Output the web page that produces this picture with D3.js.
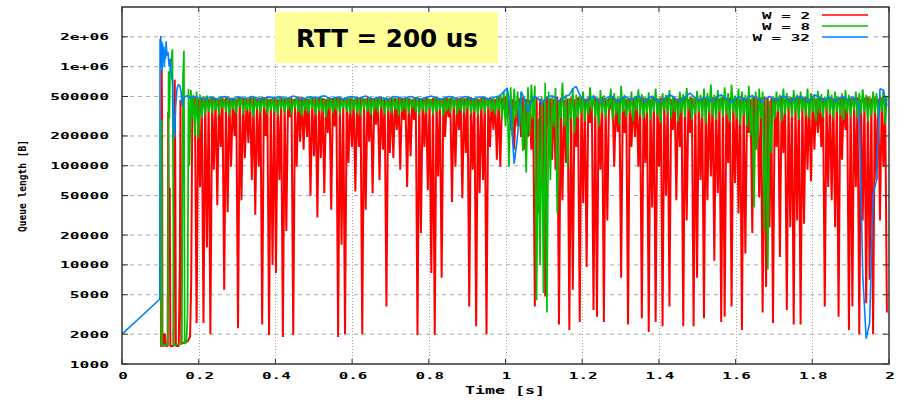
<!DOCTYPE html>
<html><head><meta charset="utf-8">
<script src="https://cdn.jsdelivr.net/npm/d3@7"></script>
<style>body{margin:0;background:#fff}svg{display:block}</style>
</head><body><svg id="c" width="907" height="400"></svg>
<script>
// ---------- axes / labels ----------
const xTicks = [0, 0.2, 0.4, 0.6, 0.8, 1, 1.2, 1.4, 1.6, 1.8, 2];
const xTickLabels = ["0", "0.2", "0.4", "0.6", "0.8", "1", "1.2", "1.4", "1.6", "1.8", "2"];
const yTicks = [1000, 2000, 5000, 10000, 20000, 50000, 100000, 200000, 500000, 1000000, 2000000];
const yTickLabels = ["1000", "2000", "5000", "10000", "20000", "50000", "100000", "200000", "500000", "1e+06", "2e+06"];
const seriesNames = ["W = 2", "W = 8", "W = 32"];
const seriesColors = ["#ff0000", "#00c000", "#0080ff"];
const annotation = "RTT = 200 us";

// ---------- data (queue length in bytes; steady parts in kB) ----------
// start-up transients: time [s], queue [B]
const w2StartT = [0.0995, 0.1018, 0.1035, 0.1045, 0.1055, 0.108, 0.1095, 0.112, 0.1135, 0.119, 0.1205, 0.1225, 0.1245, 0.126, 0.134, 0.1375, 0.139, 0.1405, 0.148, 0.151, 0.1525, 0.1545, 0.163, 0.172, 0.1775, 0.1805, 0.1835];
const w2StartQ = [1520, 1520, 930000, 300000, 1520, 1520, 2000, 2000, 1520, 1520, 350000, 20000, 60000, 1520, 1520, 740000, 100000, 1520, 1520, 12000, 460000, 1600, 1650, 1700, 1900, 6700, 470000];
const w8StartT = [0.1005, 0.1025, 0.1035, 0.1045, 0.1195, 0.1215, 0.1235, 0.1255, 0.128, 0.1315, 0.1335, 0.135, 0.156, 0.159, 0.1615, 0.1635, 0.168, 0.171, 0.1735, 0.176, 0.1795, 0.183, 0.1865];
const w8StartQ = [1550, 1550, 290000, 1550, 1550, 900000, 300000, 1000000, 1100000, 1500000, 40000, 1550, 1600, 800000, 1450000, 1600, 1650, 3300, 600000, 100000, 580000, 300000, 520000];
const w32StartT = [0, 0.0985, 0.0992, 0.1002, 0.101, 0.1025, 0.1035, 0.1048, 0.106, 0.1075, 0.109, 0.1105, 0.112, 0.1135, 0.115, 0.117, 0.12, 0.123, 0.126, 0.129, 0.132, 0.1345, 0.137, 0.14, 0.1435, 0.147, 0.151, 0.154, 0.157, 0.16, 0.165, 0.17, 0.175, 0.18, 0.185];
const w32StartQ = [2000, 4500, 1900000, 950000, 2050000, 1000000, 1800000, 900000, 1700000, 1100000, 1600000, 1000000, 1500000, 1200000, 1800000, 1300000, 1400000, 1000000, 1200000, 800000, 700000, 250000, 190000, 400000, 600000, 660000, 640000, 560000, 400000, 470000, 500000, 510000, 490000, 480000, 500000];

// steady state: one cycle every 0.009 s from t = 0.19 (upper value first, then lower)
const cycleStart = 0.19, cycleLen = 0.009;
const w2TopKb = [480,470,490,485,475,495,480,470,488,492,478,485,470,495,482,476,490,484,472,488,
494,480,475,486,470,492,483,478,490,474,486,495,480,472,488,479,491,484,470,486,
478,492,485,474,489,481,470,493,486,477,490,482,473,488,495,480,471,487,483,492,
476,489,481,470,494,485,478,490,472,486,493,480,475,488,482,470,491,484,477,489,
495,481,473,487,490,478,484,470,492,485,500,460,470,450,480,490,470,460,480,490,
475,465,490,480,470,495,485,460,478,488,470,492,482,474,490,466,486,478,494,470,
484,490,472,480,495,468,486,478,490,474,488,481,470,493,476,487,480,492,470,485,
478,490,483,472,488,495,474,486,480,470,492,484,476,490,468,486,479,494,472,488,
482,470,490,476,488,495,480,472,486,478,492,470,485,490,474,488,480,495,472,486,
478,490,484,470,492,476,488,481,494,472,486,479,490,470,485,492,478,488,474,490,482];
const w2DipKb = [2.6,61,2.6,15,2,91,40,155,5.6,34,98,200,2.3,45,120,170,72,32,98,2.5,200,1.96,10,
8.3,72,1.87,22,310,1.96,98,175,145,195,50,125,30,120,53,215,36,250,1.87,16,2,107,155,55,155,2,36,175,53,260,72,145,3.8,135,120,230,91,290,
61,125,290,1.96,21,155,57,8.3,1.96,78,7.4,195,310,43,98,230,47,135,3.8,91,2.4,53,72,2,155,230,115,98,
370,300,230,145,250,195,145,
195,145,3.8,33,91,4.8,250,115,91,2.5,45,107,2.2,5.6,155,2.65,42,9.5,270,3.5,3,91,2.65,28,370,98,220,7.4,215,2.5,155,195,98,2.9,107,2.1,38,
2.65,98,2.4,50,3.8,230,45,155,2.4,28,215,2.4,7.4,72,2.9,45,78,11,53,2.65,3,107,3.8,67,33,2.2,13,215,21,145,48,3.3,6,24,2.6,155,
12,135,3.5,24,2.5,28,2.5,26,91,70,145,215,155,3.8,61,45,24,3,115,230,2.2,3.8,61,2,28,4.1,7.1,2,72,28,98,3.3];
const w8LowKb = [200,190,300,330,350,340,
360,330,380,350,320,370,340,390,330,360,350,310,370,340,380,330,360,345,320,375,
340,365,330,385,350,320,360,340,375,330,355,345,310,370,340,360,330,380,350,335,
365,340,320,375,350,330,360,345,385,330,355,340,370,320,350,365,335,380,345,330,
360,340,375,330,350,365,320,355,340,380,330,360,345,370,335,350,325,365,340,380,350,330,360,
300,250,98,200,300,250,140,
85,200,300,4.4,10,5.2,3.3,72,250,33,300,250,98,300,215,
300,340,280,330,360,300,250,340,310,370,290,330,260,350,310,340,280,360,320,300,
340,290,350,320,270,360,330,300,350,280,340,310,360,290,330,350,300,270,340,320,
290,350,310,330,280,340,300,260,320,250,
200,38,150,300,22,9,135,
300,350,280,330,370,310,340,290,360,320,300,350,280,340,310,360,330,300,350,320,
290,340,310,360,300,330,350,280,320,340,300,350,260];
const w8HighKb = [560,520,500,510,490,500,
480,495,470,500,485,475,505,480,490,470,498,482,476,500,488,472,495,480,490,475,
500,484,470,496,480,490,476,502,486,474,494,480,488,470,498,484,476,492,480,500,
486,472,495,480,490,476,500,484,470,494,482,488,474,498,480,492,476,486,500,478,
490,482,472,496,484,476,492,480,500,486,474,490,482,496,478,488,472,500,484,492,476,500,530,
560,600,620,600,560,520,480,
620,660,640,300,500,690,560,500,610,450,690,520,480,600,520,
500,560,480,620,520,490,580,510,470,600,540,500,640,520,480,560,500,590,530,490,
550,510,600,480,540,520,580,500,470,560,530,610,500,480,570,520,600,540,660,520,
580,500,620,540,660,510,600,560,520,640,
520,560,600,560,480,450,500,
560,520,600,540,500,580,520,560,490,600,540,510,570,530,500,590,520,560,500,540,
580,520,500,560,540,590,520,500,560,540,520,580,500];
// W = 32 sampled at the lower half-cycle instants
const w32Kb = [490,480,470,485,495,480,475,490,500,485,470,480,495,490,475,485,500,490,480,470,485,
495,490,480,500,485,475,490,505,495,480,470,485,495,490,480,500,510,490,475,485,
495,480,470,490,500,485,480,495,505,490,475,480,495,485,470,480,500,495,485,475,
490,500,485,480,470,485,495,505,490,480,470,485,500,495,480,475,490,500,485,470,480,495,490,480,470,485,500,510,
560,610,370,105,200,560,480,350,460,500,480,420,
470,500,510,480,450,470,500,520,600,630,520,470,450,480,500,470,440,460,490,510,480,450,470,500,480,460,490,510,470,450,
480,500,470,440,460,490,520,500,470,450,480,510,540,500,470,460,490,480,450,470,500,520,490,460,440,470,500,480,460,490,
510,490,470,450,480,500,470,460,490,510,480,450,470,490,500,470,450,480,520,500,470,460,490,480,450,470,500,480,460,490,470,
400,8,1.8,2.6,50,72,600,580,400];

// ---------- build series ----------
const half = cycleLen / 2;
function zip(ts, qs) { return ts.map((t, i) => [t, qs[i]]); }
const w2 = zip(w2StartT, w2StartQ);
w2TopKb.forEach((v, k) => { w2.push([cycleStart + k * cycleLen, v * 1000]); w2.push([cycleStart + half + k * cycleLen, w2DipKb[k] * 1000]); });
const w8 = zip(w8StartT, w8StartQ);
w8LowKb.forEach((v, k) => { w8.push([cycleStart + k * cycleLen, v * 1000]); w8.push([cycleStart + half + k * cycleLen, w8HighKb[k] * 1000]); });
const w32 = zip(w32StartT, w32StartQ);
w32Kb.forEach((v, k) => w32.push([cycleStart + half + k * cycleLen, v * 1000]));
const series = [w2, w8, w32];
const strokeW = [2, 1.7, 1.6];

// ---------- chart ----------
const svg = d3.select("#c");
const L = 122, R = 889, T = 7, B = 364;
const x = d3.scaleLinear().domain([0, 2]).range([L, R]);
const y = d3.scaleLog().domain([1000, 4e6]).range([B, T]);
const mono = "'DejaVu Sans Mono', 'Liberation Mono', monospace";

svg.append("defs").append("clipPath").attr("id", "clip")
  .append("rect").attr("x", L).attr("y", T).attr("width", R - L).attr("height", B - T);

// grid
const grid = svg.append("g");
grid.selectAll(".hg").data(yTicks.filter(v => v > 1000)).join("line")
  .attr("x1", L).attr("x2", R).attr("y1", d => y(d)).attr("y2", d => y(d))
  .attr("stroke", "#a8a8a8").attr("stroke-width", 1).attr("stroke-dasharray", "4,4");
grid.selectAll(".vg").data(xTicks.filter(v => v > 0 && v < 2)).join("line")
  .attr("x1", d => Math.round(x(d)) + 0.5).attr("x2", d => Math.round(x(d)) + 0.5).attr("y1", T).attr("y2", B)
  .attr("stroke", "#a8a8a8").attr("stroke-width", 1).attr("stroke-dasharray", "1,2");

// series
const line = d3.line().x(d => x(d[0])).y(d => y(d[1]));
const plot = svg.append("g").attr("clip-path", "url(#clip)");
series.forEach((s, i) => {
  plot.append("path").attr("d", line(s)).attr("fill", "none")
    .attr("stroke", seriesColors[i]).attr("stroke-width", strokeW[i]).attr("stroke-linejoin", "bevel");
});

// frame and ticks
svg.append("rect").attr("x", L).attr("y", T).attr("width", R - L).attr("height", B - T)
  .attr("fill", "none").attr("stroke", "#333").attr("stroke-width", 1.5);
const tk = svg.append("g").attr("stroke", "#333").attr("stroke-width", 1);
yTicks.forEach(v => {
  tk.append("line").attr("x1", L).attr("x2", L + 6).attr("y1", y(v)).attr("y2", y(v));
  tk.append("line").attr("x1", R - 6).attr("x2", R).attr("y1", y(v)).attr("y2", y(v));
});
xTicks.forEach(v => {
  tk.append("line").attr("x1", x(v)).attr("x2", x(v)).attr("y1", B).attr("y2", B - 5);
  tk.append("line").attr("x1", x(v)).attr("x2", x(v)).attr("y1", T).attr("y2", T + 5);
});

function monoText(str, px, py, anchor, perChar, size) {
  return svg.append("text").attr("x", px).attr("y", py).attr("text-anchor", anchor)
    .attr("font-family", mono).attr("font-weight", "bold").attr("font-size", size)
    .attr("textLength", str.length * perChar).attr("lengthAdjust", "spacingAndGlyphs")
    .attr("fill", "#000").text(str);
}
yTicks.forEach((v, i) => monoText(yTickLabels[i], 109, y(v) + 3.5, "end", 9.8, 9.5));
xTicks.forEach((v, i) => monoText(xTickLabels[i], x(v) + 1, 378.5, "middle", 9.6, 9.5));

// axis titles
monoText("Time [s]", 505, 394, "middle", 10, 10);
svg.append("text").attr("transform", "translate(26,186) rotate(-90)").attr("text-anchor", "middle")
  .attr("font-family", mono).attr("font-weight", "bold").attr("font-size", 11)
  .attr("textLength", 92).attr("lengthAdjust", "spacingAndGlyphs").text("Queue length [B]");

// legend
svg.append("rect").attr("x", 748).attr("y", 8).attr("width", 126).attr("height", 35).attr("fill", "#fff");
const legendY = [15, 26, 37];
seriesNames.forEach((n, i) => {
  monoText(n, 810, legendY[i] + 3.5, "end", 9.6, 9.5);
  svg.append("line").attr("x1", 822).attr("x2", 868).attr("y1", legendY[i]).attr("y2", legendY[i])
    .attr("stroke", seriesColors[i]).attr("stroke-width", 1.3);
});

// annotation box
svg.append("rect").attr("x", 275).attr("y", 12).attr("width", 223).attr("height", 51).attr("fill", "#ffff99");
svg.append("text").attr("x", 387).attr("y", 47).attr("text-anchor", "middle")
  .attr("font-family", "'DejaVu Sans', sans-serif").attr("font-weight", "bold").attr("font-size", 24)
  .attr("textLength", 182).attr("lengthAdjust", "spacingAndGlyphs").attr("fill", "#000").text(annotation);
</script></body></html>
